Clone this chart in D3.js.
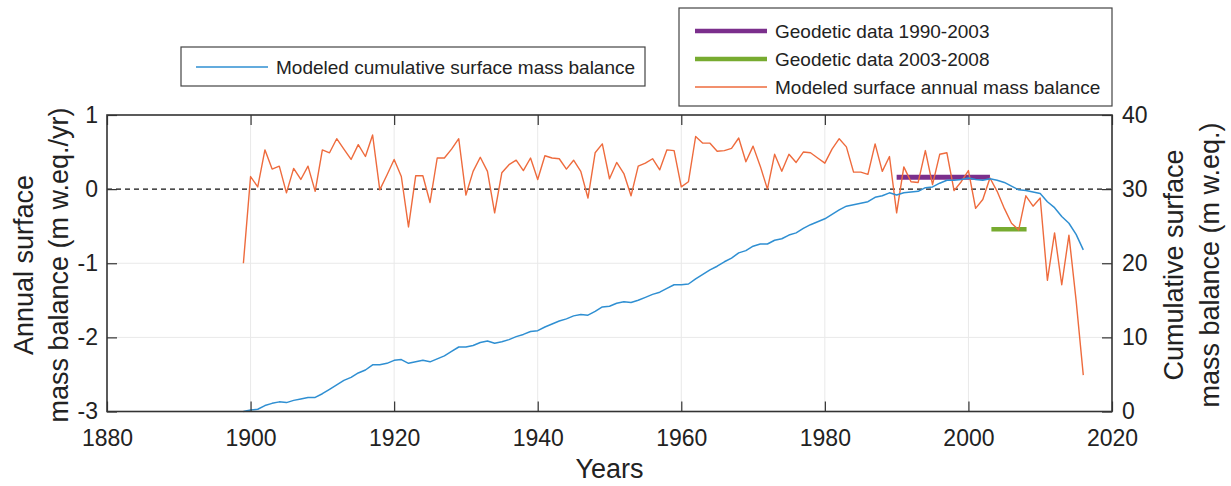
<!DOCTYPE html>
<html>
<head>
<meta charset="utf-8">
<script src="https://cdn.jsdelivr.net/npm/d3@7"></script>
<style>
  html, body { margin: 0; padding: 0; background: #fff; }
  svg { display: block; font-family: "Liberation Sans", Arial, sans-serif; }
</style>
</head>
<body>
<svg id="chart" width="1231" height="486"></svg>
<script>
// Annual surface mass balance (m w.eq./yr), one value per year from 1899 to 2016
const firstYear = 1899;
const annualBalance = [
  -1.00, 0.17, 0.03, 0.53, 0.27, 0.31, -0.05, 0.28, 0.13, 0.31,
  -0.03, 0.53, 0.49, 0.68, 0.54, 0.40, 0.60, 0.44, 0.73, -0.01,
  0.19, 0.40, 0.17, -0.51, 0.18, 0.18, -0.18, 0.42, 0.42, 0.54,
  0.68, -0.08, 0.24, 0.43, 0.24, -0.32, 0.22, 0.33, 0.39, 0.25,
  0.42, 0.13, 0.45, 0.42, 0.41, 0.27, 0.39, 0.24, -0.12, 0.49,
  0.61, 0.14, 0.36, 0.21, -0.09, 0.31, 0.35, 0.41, 0.26, 0.53,
  0.52, 0.03, 0.10, 0.71, 0.62, 0.62, 0.51, 0.52, 0.55, 0.69,
  0.37, 0.58, 0.31, 0.00, 0.47, 0.24, 0.47, 0.36, 0.50, 0.49,
  0.42, 0.35, 0.54, 0.68, 0.57, 0.23, 0.23, 0.20, 0.61, 0.24,
  0.44, -0.32, 0.30, 0.10, 0.09, 0.52, 0.06, 0.47, 0.49, -0.02,
  0.10, 0.25, -0.26, -0.14, 0.15, -0.03, -0.26, -0.46, -0.55, -0.09,
  -0.23, -0.12, -1.23, -0.59, -1.29, -0.62, -1.50, -2.51
];

// Cumulative surface mass balance (m w.eq.), same years
const cumulativeBalance = [
  0.0, 0.2, 0.3, 0.8, 1.1, 1.3, 1.2, 1.5, 1.7, 1.9,
  1.9, 2.4, 3.0, 3.6, 4.2, 4.6, 5.2, 5.6, 6.3, 6.3,
  6.5, 6.9, 7.0, 6.5, 6.7, 6.9, 6.7, 7.1, 7.5, 8.1,
  8.7, 8.7, 8.9, 9.3, 9.5, 9.2, 9.4, 9.7, 10.1, 10.4,
  10.8, 10.9, 11.4, 11.8, 12.2, 12.5, 12.9, 13.1, 13.0, 13.5,
  14.1, 14.2, 14.6, 14.8, 14.7, 15.0, 15.4, 15.8, 16.1, 16.6,
  17.1, 17.1, 17.2, 17.9, 18.5, 19.1, 19.6, 20.2, 20.7, 21.4,
  21.7, 22.3, 22.6, 22.6, 23.1, 23.3, 23.8, 24.1, 24.7, 25.2,
  25.6, 26.0, 26.6, 27.2, 27.7, 27.9, 28.1, 28.3, 28.9, 29.1,
  29.5, 29.2, 29.5, 29.6, 29.7, 30.2, 30.3, 30.8, 31.2, 31.2,
  31.3, 31.5, 31.3, 31.2, 31.4, 31.2, 30.9, 30.4, 29.9, 29.8,
  29.6, 29.4, 28.3, 27.5, 26.3, 25.4, 23.9, 21.8
];

// Geodetic mean annual balances over their survey periods
const geodetic1 = { start: 1990, end: 2003, value: 0.16 };
const geodetic2 = { start: 2003.2, end: 2008.1, value: -0.54 };

// Axis ticks
const xTicks = [1880, 1900, 1920, 1940, 1960, 1980, 2000, 2020];
const leftTicks = [-3, -2, -1, 0, 1];
const rightTicks = [0, 10, 20, 30, 40];

const years = d3.range(firstYear, firstYear + annualBalance.length);
const annualData = years.map((y, i) => ({ year: y, value: annualBalance[i] }));
const cumulativeData = years.map((y, i) => ({ year: y, value: cumulativeBalance[i] }));

const C = {
  orange: "#ee6b3d",
  blue: "#2f8fd2",
  purple: "#7b2f8c",
  green: "#77ab30",
  axis: "#333333",
  grid: "#e9e9e9"
};

const svg = d3.select("#chart");
const plotL = 107, plotR = 1112, plotT = 115, plotB = 411.5;

const x = d3.scaleLinear().domain([1880, 2020]).range([plotL, plotR]);
const yL = d3.scaleLinear().domain([-3, 1]).range([plotB, plotT]);
const yR = d3.scaleLinear().domain([0, 40]).range([plotB, plotT]);

// Light grid
const grid = svg.append("g");
grid.selectAll("line.v").data(xTicks.slice(1, -1)).join("line")
  .attr("x1", d => x(d)).attr("x2", d => x(d))
  .attr("y1", plotT).attr("y2", plotB)
  .attr("stroke", C.grid).attr("stroke-width", 1);
grid.selectAll("line.h").data([-2, -1]).join("line")
  .attr("x1", plotL).attr("x2", plotR)
  .attr("y1", d => yL(d)).attr("y2", d => yL(d))
  .attr("stroke", C.grid).attr("stroke-width", 1);

// Zero reference
svg.append("line")
  .attr("x1", plotL).attr("x2", plotR)
  .attr("y1", yL(0)).attr("y2", yL(0))
  .attr("stroke", "#111").attr("stroke-width", 1.4)
  .attr("stroke-dasharray", "5,4");

// Geodetic bars
svg.append("line")
  .attr("x1", x(geodetic1.start)).attr("x2", x(geodetic1.end))
  .attr("y1", yL(geodetic1.value)).attr("y2", yL(geodetic1.value))
  .attr("stroke", C.purple).attr("stroke-width", 5);
svg.append("line")
  .attr("x1", x(geodetic2.start)).attr("x2", x(geodetic2.end))
  .attr("y1", yL(geodetic2.value)).attr("y2", yL(geodetic2.value))
  .attr("stroke", C.green).attr("stroke-width", 4.5);

// Annual balance line
svg.append("path").datum(annualData)
  .attr("fill", "none").attr("stroke", C.orange).attr("stroke-width", 1.4)
  .attr("stroke-linejoin", "round")
  .attr("d", d3.line().x(d => x(d.year)).y(d => yL(d.value)));

// Cumulative balance line
svg.append("path").datum(cumulativeData)
  .attr("fill", "none").attr("stroke", C.blue).attr("stroke-width", 1.5)
  .attr("stroke-linejoin", "round")
  .attr("d", d3.line().x(d => x(d.year)).y(d => yR(d.value)));

// Axes with inward ticks
const tickFont = 23;
const plain = d => String(d);
function styleAxis(g) {
  g.select(".domain").remove();
  g.selectAll(".tick line").attr("stroke", C.axis).attr("stroke-width", 1.2);
  g.selectAll(".tick text").attr("fill", "#222").attr("font-size", tickFont)
    .attr("font-family", "Liberation Sans, Arial, sans-serif");
}
svg.append("g").attr("transform", `translate(0,${plotB})`)
  .call(d3.axisBottom(x).tickValues(xTicks).tickFormat(plain).tickSize(-10).tickPadding(18))
  .call(styleAxis);
svg.append("g").attr("transform", `translate(0,${plotT})`)
  .call(d3.axisTop(x).tickValues(xTicks).tickFormat("").tickSize(-10))
  .call(styleAxis);
svg.append("g").attr("transform", `translate(${plotL},0)`)
  .call(d3.axisLeft(yL).tickValues(leftTicks).tickFormat(plain).tickSize(-10).tickPadding(9))
  .call(styleAxis);
svg.append("g").attr("transform", `translate(${plotR},0)`)
  .call(d3.axisRight(yR).tickValues(rightTicks).tickFormat(plain).tickSize(-10).tickPadding(10))
  .call(styleAxis);

// Frame
svg.append("rect")
  .attr("x", plotL).attr("y", plotT)
  .attr("width", plotR - plotL).attr("height", plotB - plotT)
  .attr("fill", "none").attr("stroke", C.axis).attr("stroke-width", 1.6);

// Axis titles
const titleFont = 27;
svg.append("text").attr("x", (plotL + plotR) / 2).attr("y", 478)
  .attr("text-anchor", "middle").attr("font-size", titleFont).attr("fill", "#222")
  .text("Years");

const leftTitle = svg.append("text")
  .attr("transform", "translate(0,265) rotate(-90)")
  .attr("text-anchor", "middle").attr("font-size", titleFont).attr("fill", "#222");
leftTitle.append("tspan").attr("x", 0).attr("y", 33).text("Annual surface");
leftTitle.append("tspan").attr("x", 0).attr("y", 68).text("mass balance (m w.eq./yr)");

const rightTitle = svg.append("text")
  .attr("transform", "translate(0,265) rotate(-90)")
  .attr("text-anchor", "middle").attr("font-size", titleFont).attr("fill", "#222");
rightTitle.append("tspan").attr("x", 0).attr("y", 1183).text("Cumulative surface");
rightTitle.append("tspan").attr("x", 0).attr("y", 1219).text("mass balance (m w.eq.)");

// Legends
const legFont = 19;
const leg1 = svg.append("g");
leg1.append("rect").attr("x", 181).attr("y", 47).attr("width", 464).attr("height", 39)
  .attr("fill", "#fff").attr("stroke", "#444").attr("stroke-width", 1.2);
leg1.append("line").attr("x1", 196).attr("x2", 268).attr("y1", 67).attr("y2", 67)
  .attr("stroke", C.blue).attr("stroke-width", 1.5);
leg1.append("text").attr("x", 276).attr("y", 74).attr("font-size", legFont).attr("fill", "#222")
  .text("Modeled cumulative surface mass balance");

const legendItems = [
  { label: "Geodetic data 1990-2003", color: C.purple, width: 4.5 },
  { label: "Geodetic data 2003-2008", color: C.green, width: 4.5 },
  { label: "Modeled surface annual mass balance", color: C.orange, width: 1.5 }
];
const leg2 = svg.append("g");
leg2.append("rect").attr("x", 679).attr("y", 8).attr("width", 433).attr("height", 98)
  .attr("fill", "#fff").attr("stroke", "#444").attr("stroke-width", 1.2);
legendItems.forEach((it, i) => {
  const cy = 31 + i * 28;
  leg2.append("line").attr("x1", 695).attr("x2", 767).attr("y1", cy).attr("y2", cy)
    .attr("stroke", it.color).attr("stroke-width", it.width);
  leg2.append("text").attr("x", 775).attr("y", cy + 7).attr("font-size", legFont).attr("fill", "#222")
    .text(it.label);
});
</script>
</body>
</html>
